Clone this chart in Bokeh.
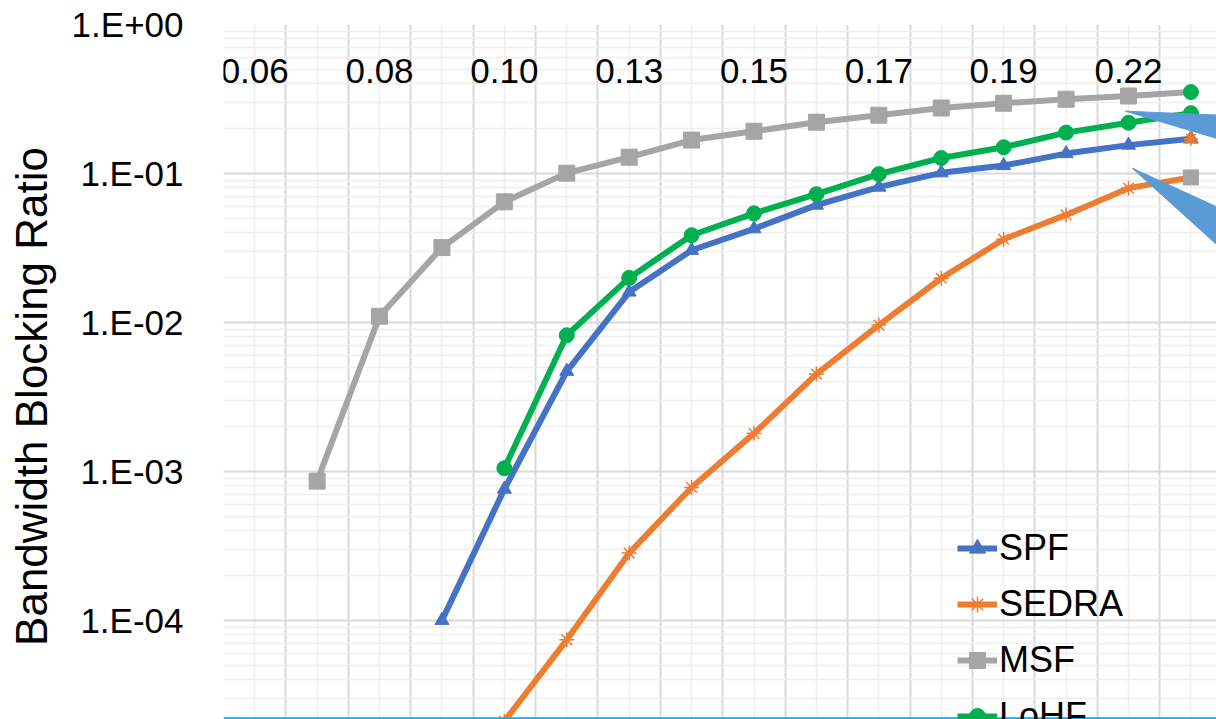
import math
from bokeh.plotting import figure
from bokeh.models import (FixedTicker, Range1d, Legend, LegendItem, CustomJSTickFormatter,
                          LabelSet, ColumnDataSource, Span)
from bokeh.core.properties import value
from bokeh.embed import file_html
from bokeh.resources import INLINE

nan = float("nan")

# ---- data ----
categories = ["0.06", "0.07", "0.08", "0.09", "0.10", "0.11", "0.13", "0.14",
              "0.15", "0.16", "0.17", "0.18", "0.19", "0.20", "0.22", "0.23"]
label_step = 2

spf = [nan, nan, nan, 1.0e-4, 7.6e-4, 4.7e-3, 0.0160, 0.0305, 0.0425, 0.0613,
       0.081, 0.101, 0.113, 0.136, 0.155, 0.171]
sedra = [nan, nan, nan, nan, 2.1e-5, 7.4e-5, 2.83e-4, 7.8e-4, 1.80e-3, 4.5e-3,
         9.6e-3, 0.0198, 0.0362, 0.0527, 0.0797, 0.094]
msf = [nan, 8.6e-4, 0.0110, 0.0318, 0.0645, 0.1005, 0.1287, 0.1675, 0.192, 0.221,
       0.246, 0.275, 0.296, 0.315, 0.331, 0.352]
lohf = [nan, nan, nan, nan, 1.05e-3, 8.2e-3, 0.0199, 0.0385, 0.0540, 0.0726,
        0.099, 0.127, 0.150, 0.188, 0.219, 0.254]

series_names = ["SPF", "SEDRA", "MSF", "LoHF"]
series_values = [spf, sedra, msf, lohf]
series_colors = ["#4472c4", "#ed7d31", "#a5a5a5", "#00b050"]
series_markers = ["triangle", "asterisk", "square", "circle"]
series_marker_sizes = [14, 15, 16, 15]
# marker drawn on the last point of each series (as in the picture)
end_markers = ["triangle", "square", "circle", "circle"]
end_colors = ["#b9774f", "#a5a5a5", "#00b050", "#00b050"]

y_title = "Bandwidth Blocking Ratio"

# callout pointers overlapping the right edge (decoration)
callout_xs = [[13.95, 15.6, 15.6], [14.06, 15.6, 15.6]]
callout_ys = [[0.262, 0.245, 0.163], [0.1086, 0.055, 0.0283]]

FONT = "Liberation Sans"

idx = list(range(len(categories)))

p = figure(width=1216, height=719, y_axis_type="log",
           x_range=Range1d(-0.5, 15.41), y_range=Range1d(2.16e-5, 1.0),
           x_axis_location=None, toolbar_location=None, output_backend="svg",
           min_border_left=223, min_border_top=24, min_border_right=0,
           min_border_bottom=0)
p.outline_line_color = None
p.background_fill_color = "white"
p.border_fill_color = "white"

# grids
major_x = [k - 0.5 for k in range(len(categories) + 1)]
minor_x = idx
p.xgrid.ticker = FixedTicker(ticks=major_x, minor_ticks=minor_x)
decades = [1e-5, 1e-4, 1e-3, 1e-2, 1e-1, 1.0]
minor_y = [m * d for d in decades[:-1] for m in range(2, 10)]
yt = FixedTicker(ticks=decades, minor_ticks=minor_y)
p.yaxis.ticker = yt
p.ygrid.ticker = yt
for g in (p.xgrid, p.ygrid):
    g.grid_line_color = "#d9d9d9"
    g.grid_line_width = 2
    g.minor_grid_line_color = "#eeeeee"
    g.minor_grid_line_width = 1.5

ax = p.yaxis[0]
ax.formatter = CustomJSTickFormatter(code="""
const e = Math.round(Math.log10(tick));
const s = e < 0 ? "-" : "+";
const a = Math.abs(e);
return "1.E" + s + (a < 10 ? "0" : "") + a;
""")
ax.axis_line_color = None
ax.major_tick_line_color = None
ax.minor_tick_line_color = None
ax.major_label_standoff = 34
ax.major_label_text_font = FONT
ax.major_label_text_font_size = "35px"
ax.major_label_text_color = "#000000"
# the chart continues below the visible area, so its title sits a little low:
# non-breaking spaces at the end push the centred text downwards
ax.axis_label = y_title + "\u00a0" * 4
ax.axis_label_text_font = FONT
ax.axis_label_text_font_size = "44px"
ax.axis_label_text_font_style = "normal"
ax.axis_label_text_color = "#000000"
ax.axis_label_standoff = 13

# category labels inside the top of the plot
lab_x = idx[::label_step]
lab_t = categories[::label_step]
lab_src = ColumnDataSource(dict(x=lab_x, y=[1.0] * len(lab_x), t=lab_t))
p.add_layout(LabelSet(x="x", y="y", text="t", source=lab_src, text_align="center",
                      text_baseline="middle", y_offset=-46, text_font=value(FONT),
                      text_font_size=value("35px"), text_color="#000000"))

items = []
for name, vals, col, mk, ms in zip(series_names, series_values, series_colors,
                                   series_markers, series_marker_sizes):
    lr = p.line(idx, vals, line_color=col, line_width=6)
    if mk == "asterisk":
        mr = p.scatter(idx[:-1], vals[:-1], marker=mk, size=ms, line_color=col,
                       line_width=1.5)
    else:
        mr = p.scatter(idx[:-1], vals[:-1], marker=mk, size=ms, fill_color=col,
                       line_color=col)
    items.append(LegendItem(label=name, renderers=[lr, mr]))

for vals, mk, col in zip(series_values, end_markers, end_colors):
    p.scatter([idx[-1]], [vals[-1]], marker=mk, size=15, fill_color=col,
              line_color=col)
p.scatter([idx[-1]], [spf[-1]], marker="asterisk", size=14,
          line_color="#ed7d31", line_width=1.5)

p.patches(xs=callout_xs, ys=callout_ys, fill_color="#5b9bd5",
          line_color="#5b9bd5")

# thin cyan border line at the bottom of the slide
p.add_layout(Span(location=2.2e-5, dimension="width", line_color="#00b0f0",
                  line_width=2))

legend = Legend(items=items, location=(734, -25), orientation="vertical",
                padding=0, margin=0, spacing=0, glyph_width=40, glyph_height=56,
                label_height=56, label_standoff=2, label_text_font=FONT,
                label_text_font_size="36px", label_text_color="#000000",
                border_line_color=None, background_fill_alpha=0)
p.add_layout(legend)

open("out.html", "w").write(file_html(p, INLINE))
